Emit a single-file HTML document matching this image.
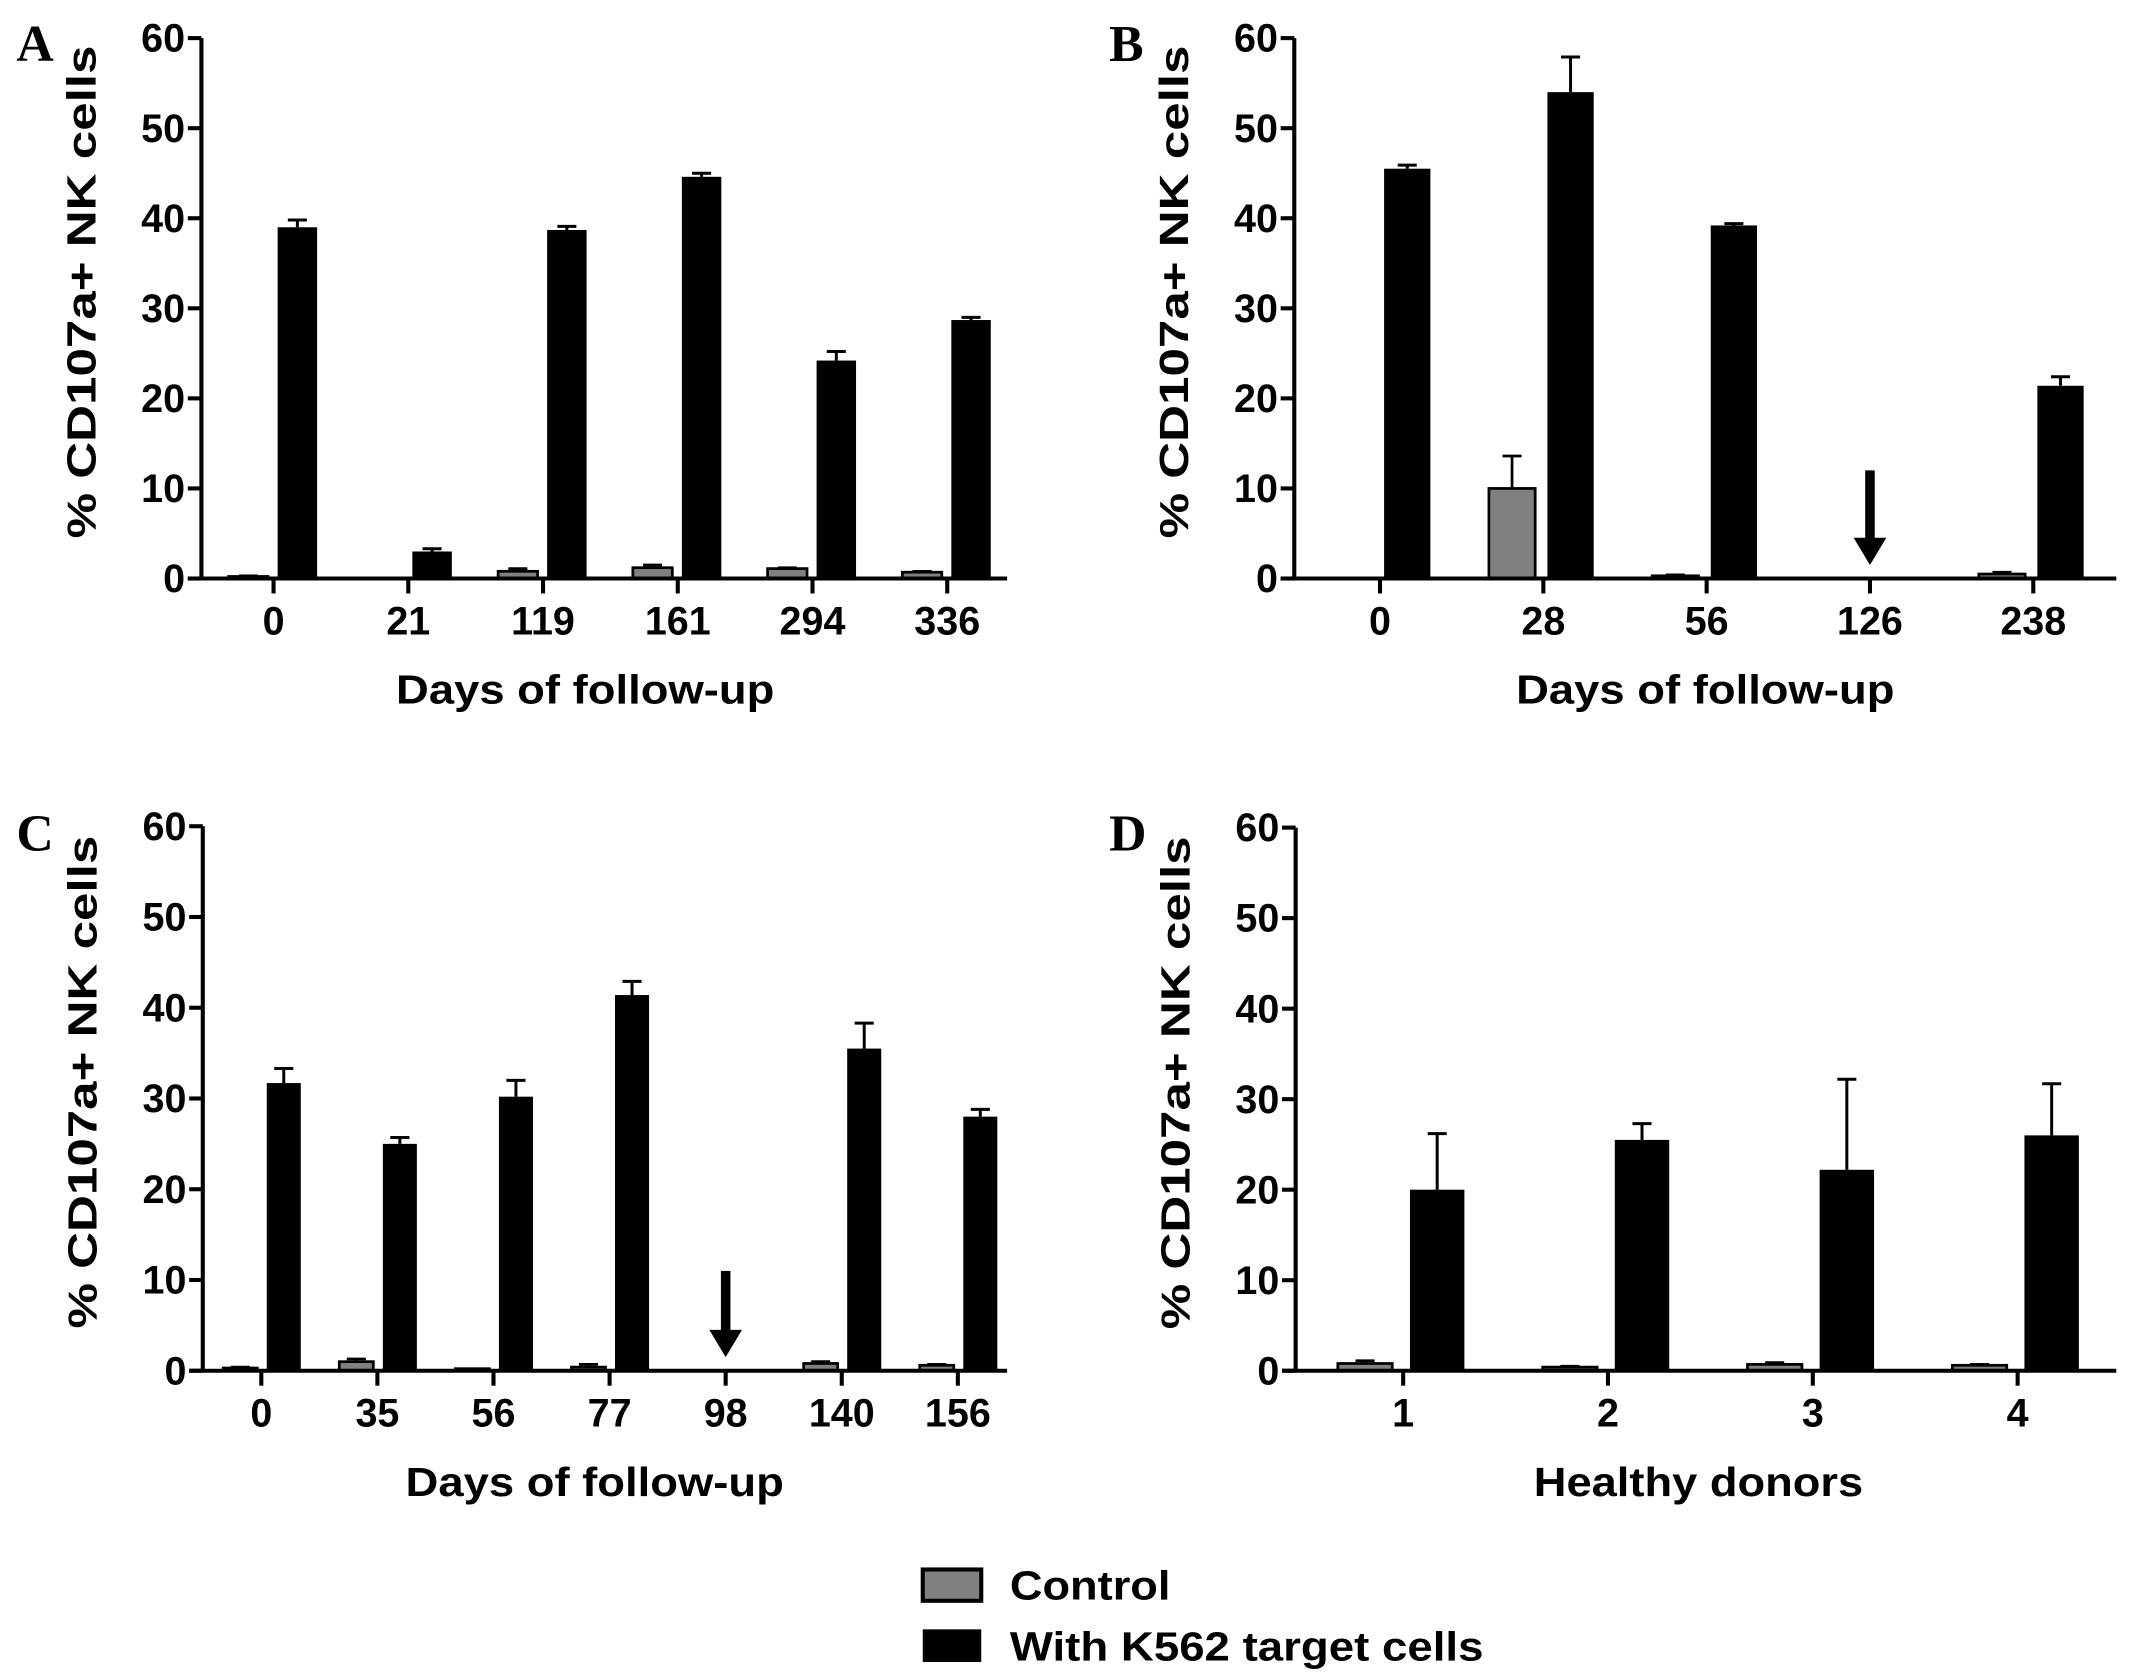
<!DOCTYPE html>
<html><head><meta charset="utf-8"><style>
html,body{margin:0;padding:0;background:#fff;}
svg{display:block;}
text{font-family:"Liberation Sans",Arial,sans-serif;font-weight:bold;fill:#000;}
.serif{font-family:"Liberation Serif","Times New Roman",serif;}
</style></head><body>
<svg id="fig" xmlns="http://www.w3.org/2000/svg" width="2134" height="1677" viewBox="0 0 1568 1232" preserveAspectRatio="none">
<rect width="1568" height="1232" fill="#fff"/>
<g id="legend">
  <g>
    <rect x="678" y="1153" width="43" height="23" fill="#808080" stroke="#000" stroke-width="3"/>
    <text x="742" y="1175" font-size="30" textLength="118" lengthAdjust="spacingAndGlyphs">Control</text>
  </g>
  <g>
    <rect x="678" y="1197" width="43" height="24" fill="#000"/>
    <text x="742" y="1220" font-size="30" textLength="348" lengthAdjust="spacingAndGlyphs">With K562 target cells</text>
  </g>
</g>
</svg>
<script>
// Panel A
const catsA = ['0','21','119','161','294','336'];
const ctrlA = [0.2,0,0.8,1.2,1.1,0.7];
const ctrlErrA = [0.1,0,0.3,0.3,0.1,0.1];
const k562A = [39.0,3.0,38.7,44.6,24.2,28.7];
const k562ErrA = [0.8,0.3,0.4,0.4,1.0,0.3];
const arrowsA = [];
// Panel B
const catsB = ['0','28','56','126','238'];
const ctrlB = [0,10,0.3,0,0.5];
const ctrlErrB = [0,3.6,0.1,0,0.2];
const k562B = [45.5,54.0,39.2,0,21.4];
const k562ErrB = [0.4,3.9,0.2,0,1.0];
const arrowsB = ['126'];
// Panel C
const catsC = ['0','35','56','77','98','140','156'];
const ctrlC = [0.3,1.0,0.1,0.4,0,0.8,0.6];
const ctrlErrC = [0.1,0.3,0,0.3,0,0.2,0.1];
const k562C = [31.7,25.0,30.2,41.4,0,35.5,28.0];
const k562ErrC = [1.6,0.7,1.8,1.5,0,2.8,0.8];
const arrowsC = ['98'];
// Panel D
const catsD = ['1','2','3','4'];
const ctrlD = [0.8,0.4,0.7,0.6];
const ctrlErrD = [0.3,0.1,0.2,0.1];
const k562D = [20.0,25.5,22.2,26.0];
const k562ErrD = [6.2,1.8,10.0,5.7];
const arrowsD = [];
const yTicks = [0,10,20,30,40,50,60];

const NS='http://www.w3.org/2000/svg';
const svg=document.getElementById('fig');
function mk(tag,attrs,parent){const e=document.createElementNS(NS,tag);for(const k in attrs)e.setAttribute(k,attrs[k]);parent.appendChild(e);return e;}

function panel(cfg){
  const g=mk('g',{},svg);
  
  
  const y=v=>cfg.y0-(v/60)*(cfg.y0-cfg.y60);
  const x=i=>cfg.t0+cfg.step*i;
  const L=mk('text',{x:cfg.lx,y:cfg.ly,'font-size':38,class:'serif'},g);
  L.textContent=cfg.id.toUpperCase();
  
  
  cfg.cats.forEach((c,i)=>{
    const cx=x(i);
    if(cfg.ctrl[i]>0){
      const h=Math.max(y(0)-y(cfg.ctrl[i]),1.5);
      const r=mk('rect',{x:cx-cfg.cg-cfg.bw,y:y(0)-h,width:cfg.bw,height:h,fill:'#808080',stroke:'#000','stroke-width':2},g);
      
      
      if(cfg.ctrlErr[i]>0){
        const ex=cx-cfg.cg-cfg.bw/2, ey=y(cfg.ctrl[i]+cfg.ctrlErr[i]);
        const e=mk('path',{d:`M${ex} ${y(cfg.ctrl[i])}V${ey}M${ex-7} ${ey}H${ex+7}`,stroke:'#000','stroke-width':2,fill:'none'},g);
        
        
      }
    }
    if(cfg.k562[i]>0){
      const r=mk('rect',{x:cx+cfg.kg,y:y(cfg.k562[i]),width:cfg.bw,height:y(0)-y(cfg.k562[i]),fill:'#000'},g);
      
      
      const ex=cx+cfg.kg+cfg.bw/2, ey=y(cfg.k562[i]+cfg.k562Err[i]);
      const e=mk('path',{d:`M${ex} ${y(cfg.k562[i])}V${ey}M${ex-7} ${ey}H${ex+7}`,stroke:'#000','stroke-width':2.2,fill:'none'},g);
      
      
    }
    if(cfg.arrows.indexOf(c)>=0){
      const top=y(cfg.arrowTop), bot=y(1.5);
      const a=mk('path',{d:`M${cx-3.5} ${top}H${cx+3.5}V${bot-20}H${cx+12}L${cx} ${bot}L${cx-12} ${bot-20}H${cx-3.5}Z`,fill:'#000'},g);
      
      
    }
    const tk=mk('line',{x1:cx,x2:cx,y1:cfg.y0,y2:cfg.y0+11,stroke:'#000','stroke-width':3},g);
    
    
    const t=mk('text',{x:cx,y:cfg.y0+41,'font-size':29,'text-anchor':'middle'},g);
    t.textContent=c;
    
    
  });
  const ax=mk('path',{d:`M${cfg.ax} ${cfg.y60}V${cfg.y0}M${cfg.ax-10} ${cfg.y0}H${cfg.xEnd}`,stroke:'#000','stroke-width':3,fill:'none'},g);
  
  
  yTicks.forEach(v=>{
    const tl=mk('line',{x1:cfg.ax-10,x2:cfg.ax,y1:y(v),y2:y(v),stroke:'#000','stroke-width':3},g);
    
    
    const t=mk('text',{x:cfg.ax-12,y:y(v)+10,'font-size':29,'text-anchor':'end'},g);
    t.textContent=String(v);
    
    
  });
  const yt=mk('text',{x:0,y:0,'font-size':30,'text-anchor':'middle',transform:`translate(${cfg.ax-78},${(cfg.y0+cfg.y60)/2-12}) rotate(-90)`,textLength:362,lengthAdjust:'spacingAndGlyphs'},g);
  yt.textContent='% CD107a+ NK cells';
  
  
  const xt=mk('text',{x:cfg.xtx,y:cfg.y0+92,'font-size':30,'text-anchor':'middle',textLength:cfg.xtw,lengthAdjust:'spacingAndGlyphs'},g);
  xt.textContent=cfg.xtitle;
  
  
}
panel({id:'a',cats:catsA,ctrl:ctrlA,ctrlErr:ctrlErrA,k562:k562A,k562Err:k562ErrA,arrows:arrowsA,arrowTop:12,
  ax:148,y0:425,y60:28,xEnd:740,t0:201,step:99,bw:29,kg:3,cg:4,lx:12,ly:45,xtx:430,xtw:278,xtitle:'Days of follow-up'});
panel({id:'b',cats:catsB,ctrl:ctrlB,ctrlErr:ctrlErrB,k562:k562B,k562Err:k562ErrB,arrows:arrowsB,arrowTop:12,
  ax:951,y0:425,y60:28,xEnd:1555,t0:1014,step:120,bw:34,kg:3,cg:6,lx:815,ly:45,xtx:1253,xtw:278,xtitle:'Days of follow-up'});
panel({id:'c',cats:catsC,ctrl:ctrlC,ctrlErr:ctrlErrC,k562:k562C,k562Err:k562ErrC,arrows:arrowsC,arrowTop:11,
  ax:149,y0:1007,y60:607,xEnd:740,t0:192,step:85.3,bw:25,kg:4,cg:3,lx:12,ly:625,xtx:437,xtw:278,xtitle:'Days of follow-up'});
panel({id:'d',cats:catsD,ctrl:ctrlD,ctrlErr:ctrlErrD,k562:k562D,k562Err:k562ErrD,arrows:arrowsD,arrowTop:11,
  ax:952,y0:1007,y60:608,xEnd:1555,t0:1031,step:150.5,bw:40,kg:5,cg:8,lx:815,ly:625,xtx:1248,xtw:242,xtitle:'Healthy donors'});
</script>
</body></html>
